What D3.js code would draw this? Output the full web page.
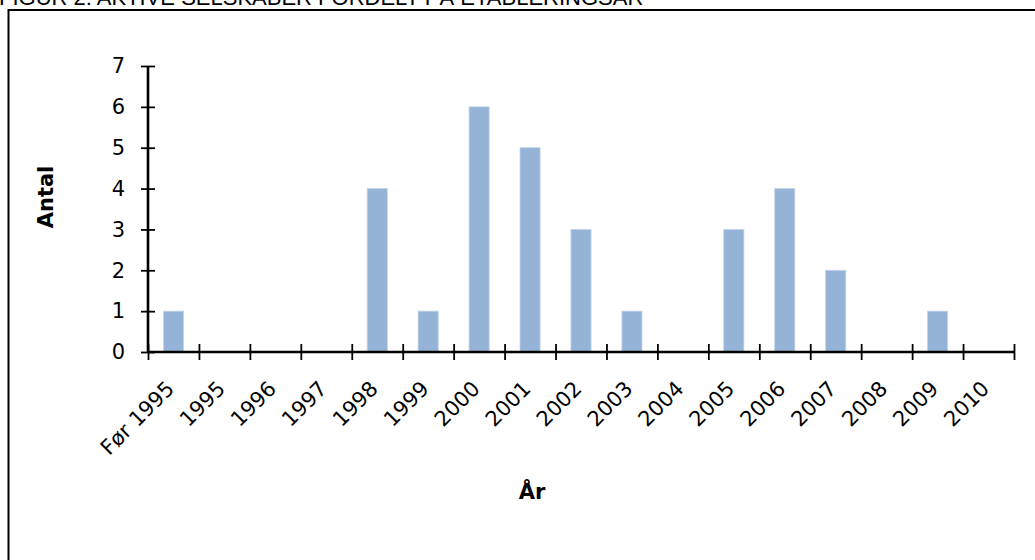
<!DOCTYPE html>
<html>
<head>
<meta charset="utf-8">
<script src="https://cdn.jsdelivr.net/npm/d3@7"></script>
<style>
  body { margin: 0; background: #fff; }
  svg { display: block; }
</style>
</head>
<body>
<script>
// data
var categories = ["Før 1995", "1995", "1996", "1997", "1998", "1999", "2000", "2001",
                  "2002", "2003", "2004", "2005", "2006", "2007", "2008", "2009", "2010"];
var counts = [1, 0, 0, 0, 4, 1, 6, 5, 3, 1, 0, 3, 4, 2, 0, 1, 0];
var yTicks = [0, 1, 2, 3, 4, 5, 6, 7];

var titleText = "FIGUR 2: AKTIVE SELSKABER FORDELT PÅ ETABLERINGSÅR";

var svgWidth = 1035,
    svgHeight = 560,
    plotLeft = 148, plotRight = 1014,
    plotTop = 66, plotBottom = 352;

var svg = d3.select("body").append("svg")
    .attr("width", svgWidth)
    .attr("height", svgHeight);

// title, cut off by the top edge
svg.append("text")
    .attr("x", -1)
    .attr("y", 4.5)
    .attr("font-family", "Liberation Sans, Arial, sans-serif")
    .attr("font-size", 22)
    .attr("fill", "#000")
    .text(titleText);

// chart frame (runs past right and bottom edges)
svg.append("rect")
    .attr("x", 8.5)
    .attr("y", 10)
    .attr("width", 1200)
    .attr("height", 800)
    .attr("fill", "none")
    .attr("stroke", "#000")
    .attr("stroke-width", 2);

var x = d3.scaleBand()
    .domain(categories)
    .range([plotLeft, plotRight])
    .padding(0);

var xEdges = d3.scaleLinear()
    .domain([0, categories.length])
    .range([plotLeft, plotRight]);

var y = d3.scaleLinear()
    .domain([0, 7])
    .range([plotBottom, plotTop]);

// bars
var barW = x.bandwidth() * 0.395;
svg.selectAll("rect.bar")
    .data(counts)
    .enter()
    .append("rect")
    .attr("class", "bar")
    .attr("x", (d, i) => x(categories[i]) + (x.bandwidth() - barW) / 2)
    .attr("y", d => y(d))
    .attr("width", barW)
    .attr("height", d => y(0) - y(d))
    .attr("fill", "#95b3d7")
    .attr("stroke", "#c3d4ea")
    .attr("stroke-width", 0.8);

// y axis
var yAxis = svg.append("g")
    .attr("transform", "translate(" + plotLeft + ",0)")
    .call(d3.axisLeft(y).tickValues(yTicks).tickFormat(d3.format("d")).tickSize(7).tickPadding(16));
yAxis.select(".domain")
    .attr("d", "M0," + y(7) + "V" + y(0))
    .attr("stroke", "#000")
    .attr("stroke-width", 2.6);
yAxis.selectAll(".tick line")
    .attr("x1", -7).attr("x2", 7)
    .attr("stroke", "#000")
    .attr("stroke-width", 1.8);
yAxis.selectAll(".tick text")
    .attr("font-family", "DejaVu Sans, Verdana, sans-serif")
    .attr("font-size", 21)
    .attr("fill", "#000");

// x axis: ticks at band edges
var xAxis = svg.append("g")
    .attr("transform", "translate(0," + plotBottom + ")")
    .call(d3.axisBottom(xEdges).tickValues(d3.range(categories.length + 1)).tickFormat("").tickSize(8));
xAxis.select(".domain")
    .attr("d", "M" + plotLeft + ",0H" + plotRight)
    .attr("stroke", "#000")
    .attr("stroke-width", 2.6);
xAxis.selectAll(".tick line")
    .attr("y1", -8).attr("y2", 8)
    .attr("stroke", "#000")
    .attr("stroke-width", 1.8);

// rotated category labels
svg.append("g").selectAll("text")
    .data(categories)
    .enter()
    .append("text")
    .attr("text-anchor", "end")
    .attr("font-family", "DejaVu Sans, Verdana, sans-serif")
    .attr("font-size", 21)
    .attr("fill", "#000")
    .attr("transform", d => {
        var cx = x(d) + x.bandwidth() / 2 + 2;
        return "translate(" + cx + "," + (plotBottom + 38) + ") rotate(-45)";
    })
    .text(d => d);

// axis titles
svg.append("text")
    .attr("transform", "translate(53,197) rotate(-90)")
    .attr("text-anchor", "middle")
    .attr("font-family", "DejaVu Sans, Verdana, sans-serif")
    .attr("font-weight", "bold")
    .attr("font-size", 21)
    .text("Antal");

svg.append("text")
    .attr("x", 532)
    .attr("y", 499)
    .attr("text-anchor", "middle")
    .attr("font-family", "DejaVu Sans, Verdana, sans-serif")
    .attr("font-weight", "bold")
    .attr("font-size", 21)
    .text("År");
</script>
</body>
</html>
